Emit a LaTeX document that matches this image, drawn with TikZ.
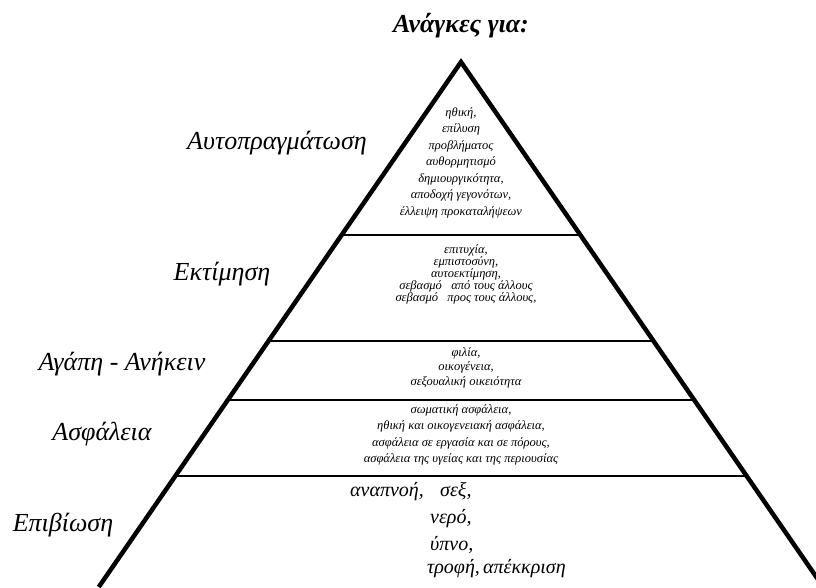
\documentclass[tikz,border=0pt]{standalone}
\usepackage{fontspec}
\setmainfont{Liberation Serif}
\usetikzlibrary{calc}
\begin{document}
\begin{tikzpicture}[x=1pt,y=-1pt,
  side/.style={line width=4.5pt,line join=miter},
  tier/.style={line width=1.8pt},
  lbl/.style={font=\fontsize{26}{30}\selectfont\itshape,anchor=center,inner sep=0pt},
  small/.style={align=center,inner sep=0pt,font=\fontsize{12.5}{16.5}\selectfont\itshape},
  big/.style={inner sep=0pt,anchor=base west,font=\fontsize{20}{24}\selectfont\itshape}]
\useasboundingbox (0,0) rectangle (816,587);
\clip (0,0) rectangle (816,587);
\fill[white] (0,0) rectangle (816,587);
\coordinate (apex) at (461,62);
\coordinate (bl) at (98.75,587);
\coordinate (br) at (823.25,587);
\draw[side] (bl) -- (apex) -- (br);
\foreach \t/\n in {0.3295/a,0.5314/b,0.6438/c,0.7886/d}{
  \coordinate (l\n) at ($(apex)!\t!(bl)$);
  \coordinate (r\n) at ($(apex)!\t!(br)$);
  \draw[tier] (l\n) -- (r\n);
}
\node[font=\fontsize{26}{30}\selectfont\bfseries\itshape] (title) at (461,26) {Ανάγκες για:};
\node[lbl] (n1) at (277,143) {Αυτοπραγμάτωση};
\node[lbl] (n2) at (222,274) {Εκτίμηση};
\node[lbl] (n3) at (122,364) {Αγάπη - Ανήκειν};
\node[lbl] (n4) at (102,434) {Ασφάλεια};
\node[lbl] (n5) at (63,525) {Επιβίωση};
\node[small,anchor=north] (t1) at (461,107) {ηθική,\\επίλυση\\προβλήματος\\αυθορμητισμό\\δημιουργικότητα,\\αποδοχή γεγονότων,\\έλλειψη προκαταλήψεων};
\node[small,font=\fontsize{12.5}{12}\selectfont\itshape,anchor=north] (t2) at (466,244) {επιτυχία,\\εμπιστοσύνη,\\αυτοεκτίμηση,\\σεβασμό \ \ από τους άλλους\\σεβασμό \ \ προς τους άλλους,};
\node[small,font=\fontsize{12.5}{14.5}\selectfont\itshape,anchor=north] (t3) at (466,347) {φιλία,\\οικογένεια,\\σεξουαλική οικειότητα};
\node[small,font=\fontsize{12.5}{16.5}\selectfont\itshape,anchor=north] (t4) at (461,404) {σωματική ασφάλεια,\\ηθική και οικογενειακή ασφάλεια,\\ασφάλεια σε εργασία και σε πόρους,\\ασφάλεια της υγείας και της περιουσίας};
\node[big] (s1) at (350,496) {αναπνοή,};
\node[big] (s2) at (440,496) {σεξ,};
\node[big] (s3) at (430,523) {νερό,};
\node[big] (s4) at (430,550) {ύπνο,};
\node[big] (s5) at (427,573) {τροφή,};
\node[big] (s6) at (483,573) {απέκκριση};
\end{tikzpicture}
\end{document}
